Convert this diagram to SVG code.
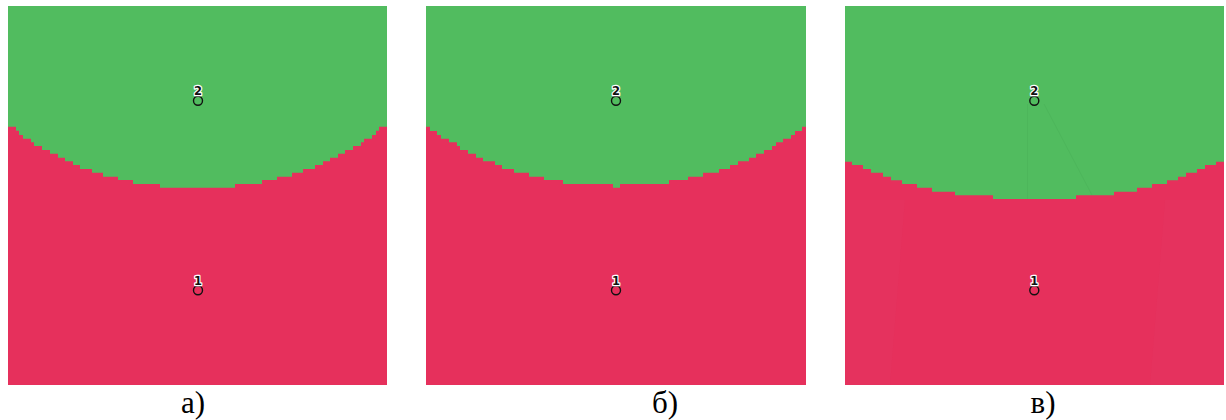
<svg xmlns="http://www.w3.org/2000/svg" width="1226" height="420" viewBox="0 0 1226 420">
<style>
.red{fill:#E6305C}
.green{fill:#51BC5F}
.node circle{stroke:#111;stroke-width:1.4}
.node text{font-family:"DejaVu Sans",sans-serif;font-weight:bold;font-size:11.5px;text-anchor:middle;fill:#111;stroke:#fff;stroke-width:2.4px;paint-order:stroke;stroke-linejoin:round}
.cap{font-family:"Liberation Serif",serif;font-size:31px;text-anchor:middle;fill:#000}
.faint{stroke:#4DB65B;stroke-width:1;fill:none}
</style>
<rect width="1226" height="420" fill="#fff"/>
<g id="panel-a">
<rect class="red" x="8" y="6" width="379" height="379"/>
<polygon class="green" points="8,6 8,126.7 16,126.7 16,130.7 19,130.7 19,135 23,135 23,138.7 31,138.7 31,142.3 34,142.3 34,146 42,146 42,150 50,150 50,153.7 58,153.7 58,157.7 65,157.7 65,161.3 73,161.3 73,165 80,165 80,169 92,169 92,172.7 103,172.7 103,176.7 118,176.7 118,180 133,180 133,184 160,184 160,187.7 235,187.7 235,184 262,184 262,180 277,180 277,176.7 292,176.7 292,172.7 303,172.7 303,169 315,169 315,165 323,165 323,161.3 330,161.3 330,157.7 338,157.7 338,153.7 345,153.7 345,150 353,150 353,146 361,146 361,142.3 364,142.3 364,138.7 372,138.7 372,135 376,135 376,130.7 379,130.7 379,126.7 387,126.7 387,6"/>
</g>
<g id="panel-b">
<rect class="red" x="426" y="6" width="380" height="379"/>
<polygon class="green" points="426,6 426,126.7 430,126.7 430,131 437,131 437,135 441,135 441,138.7 449,138.7 449,142.3 457,142.3 457,146 460,146 460,150 468,150 468,153.7 476,153.7 476,157.7 483,157.7 483,161.3 495,161.3 495,165 502,165 502,169 514,169 514,172.7 529,172.7 529,176.7 544,176.7 544,180 563,180 563,184 613,184 613,187.7 620,187.7 620,184 669,184 669,180 688,180 688,176.7 703,176.7 703,172.7 719,172.7 719,169 730,169 730,165 738,165 738,161.3 749,161.3 749,157.7 756,157.7 756,153.7 764,153.7 764,150 772,150 772,146 776,146 776,142.3 783,142.3 783,138.7 791,138.7 791,135 795,135 795,131 802,131 802,126.7 806,126.7 806,6"/>
</g>
<g id="panel-c">
<rect class="red" x="845" y="6" width="379" height="379"/>
<polygon fill="#E4345F" opacity="0.5" points="845,200 905,200 890,385 845,385"/>
<polygon fill="#E4345F" opacity="0.5" points="1165,200 1224,200 1224,385 1150,385"/>
<polygon class="green" points="845,6 845,161.7 852,161.7 852,165 863,165 863,169 871,169 871,172.7 883,172.7 883,176.7 891,176.7 891,180.3 902,180.3 902,184 917,184 917,187.7 932,187.7 932,191.7 955,191.7 955,195.3 993,195.3 993,199 1076,199 1076,195.3 1114,195.3 1114,191.7 1137,191.7 1137,187.7 1152,187.7 1152,184 1167,184 1167,180.3 1178,180.3 1178,176.7 1186,176.7 1186,172.7 1197,172.7 1197,169 1205,169 1205,165 1216,165 1216,161.7 1224,161.7 1224,6"/>
<line class="faint" x1="1027.5" y1="104" x2="1027.5" y2="199"/>
<line class="faint" x1="1044" y1="104" x2="1092" y2="195"/>
</g>
<g id="connectors"></g>
<g id="node-a2" class="node"><circle class="green" cx="198" cy="100.7" r="4.5"/><text x="198" y="95">2</text></g>
<g id="node-a1" class="node"><circle class="red" cx="198" cy="290.3" r="4.5"/><text x="198" y="284.5">1</text></g>
<g id="node-b2" class="node"><circle class="green" cx="616" cy="100.7" r="4.5"/><text x="616" y="95">2</text></g>
<g id="node-b1" class="node"><circle class="red" cx="616" cy="290.3" r="4.5"/><text x="616" y="284.5">1</text></g>
<g id="node-c2" class="node"><circle class="green" cx="1034.3" cy="100.7" r="4.5"/><text x="1034.3" y="95">2</text></g>
<g id="node-c1" class="node"><circle class="red" cx="1034.3" cy="290.3" r="4.5"/><text x="1034.3" y="284.5">1</text></g>
<text class="cap" x="193" y="413">а)</text>
<text class="cap" x="665" y="413">б)</text>
<text class="cap" x="1043" y="413">в)</text>
</svg>
